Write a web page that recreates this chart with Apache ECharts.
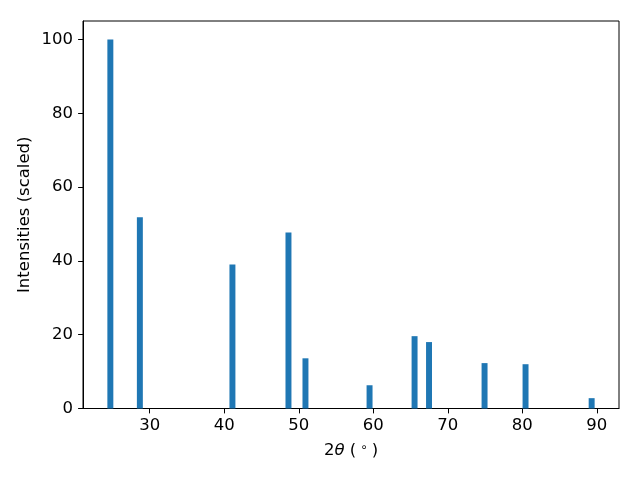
<!DOCTYPE html>
<html><head><meta charset="utf-8">
<script src="https://cdn.jsdelivr.net/npm/echarts@6/dist/echarts.min.js"></script>
<style>html,body{margin:0;padding:0;background:#fff}#c{width:640px;height:480px}</style>
</head><body><div id="c"></div>
<script>
const positions = [24.72, 28.68, 41.10, 48.62, 50.90, 59.50, 65.54, 67.48, 74.93, 80.43, 89.30];
const intensities = [100, 51.8, 39.0, 47.7, 13.6, 6.3, 19.6, 18.0, 12.3, 12.0, 2.8];
const xTicks = [30, 40, 50, 60, 70, 80, 90];
const yTicks = [0, 20, 40, 60, 80, 100];
const barWidthUnits = 0.8;

const chart = echarts.init(document.getElementById('c'), null, {renderer: 'canvas'});
const font = 'DejaVu Sans';
const fs = 16.5;
chart.setOption({
  animation: false,
  grid: {left: 83, right: 21, top: 21, bottom: 71.5, show: true, borderColor: '#000', borderWidth: 1, backgroundColor: 'transparent'},
  xAxis: {
    type: 'value', min: 21.05, max: 92.97,
    name: '2{i|θ} ({s|∘})', nameLocation: 'middle', nameGap: 33, nameMoveOverlap: false,
    nameTextStyle: {fontFamily: font, fontSize: fs, color: '#000', rich: {
      i: {fontStyle: 'italic', fontFamily: font, fontSize: fs, color: '#000'},
      s: {fontFamily: font, fontSize: 12, color: '#000', verticalAlign: 'top', padding: [0, 4, 7, 4]}
    }},
    axisLine: {show: true, lineStyle: {color: '#000', width: 1}},
    axisTick: {show: true, inside: false, length: 4.9, lineStyle: {color: '#000'}, customValues: xTicks},
    axisLabel: {fontFamily: font, fontSize: fs, color: '#000', margin: 9, customValues: xTicks},
    splitLine: {show: false}
  },
  yAxis: {
    type: 'value', min: 0, max: 105,
    name: 'Intensities (scaled)', nameLocation: 'middle', nameGap: 50, nameMoveOverlap: false,
    nameTextStyle: {fontFamily: font, fontSize: fs, color: '#000'},
    axisLine: {show: true, lineStyle: {color: '#000', width: 1}},
    axisTick: {show: true, inside: false, length: 4.9, lineStyle: {color: '#000'}, customValues: yTicks},
    axisLabel: {fontFamily: font, fontSize: fs, color: '#000', margin: 10, customValues: yTicks},
    splitLine: {show: false}
  },
  series: [{
    type: 'custom',
    data: positions.map((p, i) => [p, intensities[i]]),
    renderItem: function (params, api) {
      const x = api.value(0), y = api.value(1);
      const p1 = api.coord([x - barWidthUnits / 2, y]);
      const p2 = api.coord([x + barWidthUnits / 2, 0]);
      return {type: 'rect', shape: {x: p1[0], y: p1[1], width: p2[0] - p1[0], height: p2[1] - p1[1]}, style: {fill: '#1f77b4'}};
    },
    encode: {x: 0, y: 1}
  }]
});
</script></body></html>
